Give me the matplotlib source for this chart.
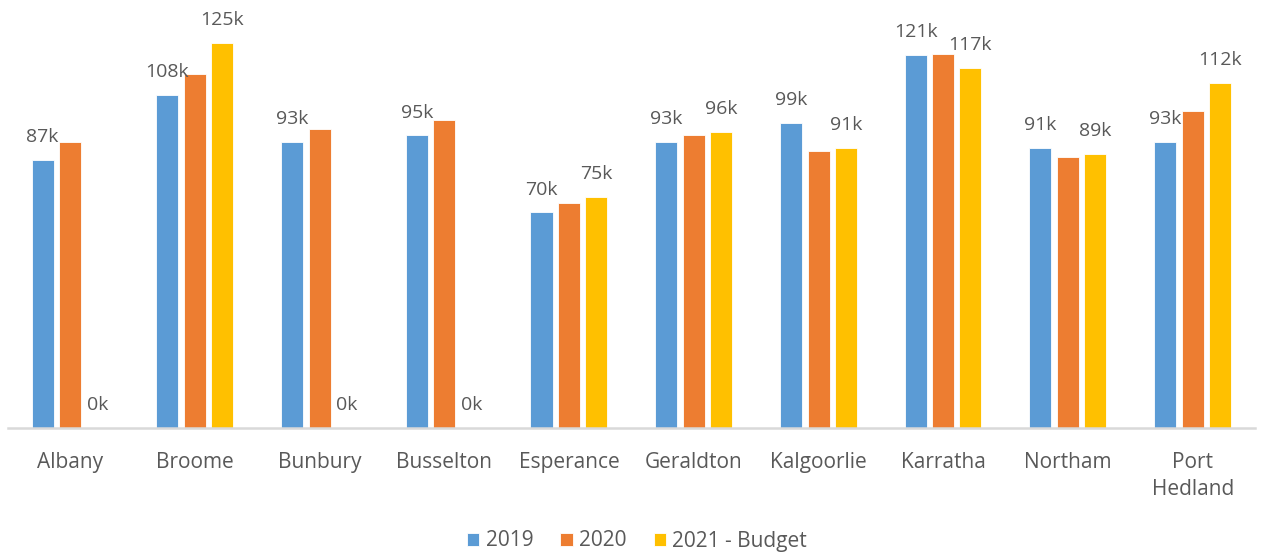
import matplotlib
matplotlib.use("Agg")
import matplotlib.pyplot as plt
import numpy as np

categories = ["Albany", "Broome", "Bunbury", "Busselton", "Esperance",
              "Geraldton", "Kalgoorlie", "Karratha", "Northam", "Port\nHedland"]
series_names = ["2019", "2020", "2021 - Budget"]
values_2019 = [87, 108, 93, 95, 70, 93, 99, 121, 91, 93]
values_2020 = [93, 115, 97, 100, 73, 95, 90, 121.5, 88, 103]
values_2021 = [0, 125, 0, 0, 75, 96, 91, 117, 89, 112]
colors = ["#5B9BD5", "#ED7D31", "#FFC000"]
labelled = [True, False, True]

plt.rcParams["font.family"] = ["Open Sans", "DejaVu Sans"]
text_color = "#595959"

fig = plt.figure(figsize=(12.64, 5.53), dpi=100)
ax = fig.add_axes([8 / 1264, 1 - 428 / 553, (1255 - 8) / 1264, 415.8 / 553])

x = np.arange(len(categories))
width = 0.177
offsets = [-0.222, 0.0, 0.218]
all_series = [values_2019, values_2020, values_2021]

for vals, off, col, lab, name in zip(all_series, offsets, colors, labelled, series_names):
    bars = ax.bar(x + off, vals, width=width, color=col, label=name,
                  edgecolor="white", linewidth=0.6)
    if lab:
        for b, v in zip(bars, vals):
            ax.annotate(f"{v:.0f}k", (b.get_x() + b.get_width() / 2, v),
                        xytext=(0, 10), textcoords="offset points",
                        ha="center", va="bottom", fontsize=14,
                        color=text_color, annotation_clip=False)

ax.set_xlim(-0.5, len(categories) - 0.5)
ax.set_ylim(0, 135)
ax.set_yticks([])
ax.set_xticks(x)
ax.set_xticklabels(categories, fontsize=15, color=text_color, linespacing=1.4)
ax.tick_params(axis="x", length=0, pad=17)
for s in ["top", "right", "left"]:
    ax.spines[s].set_visible(False)
ax.spines["bottom"].set_color("#D9D9D9")
ax.spines["bottom"].set_linewidth(1.8)

leg = fig.legend(loc="center", bbox_to_anchor=(637 / 1264, 1 - 541 / 553),
                 ncol=3, frameon=False, fontsize=15, handlelength=0.6,
                 handleheight=0.6, handletextpad=0.3, columnspacing=1.3)
for t in leg.get_texts():
    t.set_color(text_color)

fig.savefig("out.png", dpi=100)
